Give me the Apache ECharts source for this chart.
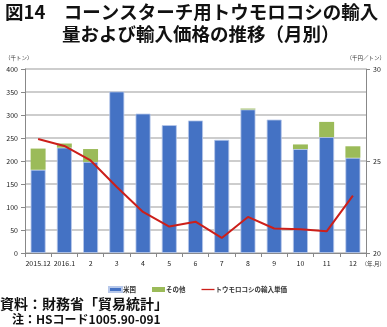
<!DOCTYPE html>
<html>
<head>
<meta charset="utf-8">
<script src="https://cdn.jsdelivr.net/npm/echarts@6/dist/echarts.min.js"></script>
<style>
  html, body { margin: 0; padding: 0; background: #fff; }
  #chart { width: 387px; height: 327px; }
</style>
</head>
<body>
<div id="chart"></div>
<script>
// Monthly imports of corn for cornstarch (thousand tonnes) and unit price (thousand yen / tonne)
var months = ['2015.12', '2016.1', '2', '3', '4', '5', '6', '7', '8', '9', '10', '11', '12'];
var usVolume = [181, 229, 198, 351, 303, 278, 288, 246, 312, 290, 226, 252, 207];
var otherVolume = [46, 9, 28, 0, 0, 0, 0, 0, 2, 0, 10, 33, 25];
var unitPrice = [26.2, 25.82, 25.03, 23.59, 22.23, 21.44, 21.7, 20.82, 21.96, 21.33, 21.29, 21.18, 23.12];
var volumeTicks = [0, 50, 100, 150, 200, 250, 300, 350, 400];
var priceTicks = [20, 25, 30];

var FONT = '"Noto Sans CJK JP", "Noto Sans", sans-serif';
var chart = echarts.init(document.getElementById('chart'));

chart.setOption({
  animation: false,
  backgroundColor: '#fff',
  grid: { left: 25, right: 21, top: 69, bottom: 74, containLabel: false },
  legend: {
    top: 281,
    left: 103,
    itemWidth: 13,
    itemHeight: 5,
    itemGap: 16,
    textStyle: { fontSize: 6.5, fontFamily: FONT, fontWeight: 'bold', color: '#333', padding: [0, 0, 0, -4] },
    data: [
      { name: '米国', icon: 'rect' },
      { name: 'その他', icon: 'rect' },
      { name: 'トウモロコシの輸入単価', icon: 'path://M0,4L20,4L20,6L0,6Z' }
    ]
  },
  xAxis: {
    type: 'category',
    data: months,
    boundaryGap: true,
    axisLine: { lineStyle: { color: '#888', width: 1 } },
    axisTick: { show: true, length: 4, lineStyle: { color: '#888' } },
    axisLabel: { fontSize: 7, fontFamily: FONT, color: '#222', margin: 7, interval: 0 }
  },
  yAxis: [
    {
      type: 'value',
      min: volumeTicks[0],
      max: volumeTicks[volumeTicks.length - 1],
      interval: 50,
      axisLine: { show: true, lineStyle: { color: '#888' } },
      axisTick: { show: true, length: 4, lineStyle: { color: '#888' } },
      axisLabel: { fontSize: 7, fontFamily: FONT, color: '#222', margin: 7 },
      splitLine: { show: true, lineStyle: { color: '#bdbdbd', width: 1.5 } }
    },
    {
      type: 'value',
      min: priceTicks[0],
      max: priceTicks[priceTicks.length - 1],
      interval: 5,
      position: 'right',
      axisLine: { show: true, lineStyle: { color: '#888' } },
      axisTick: { show: true, length: 4, lineStyle: { color: '#888' } },
      axisLabel: { fontSize: 7, fontFamily: FONT, color: '#222', margin: 7 },
      splitLine: { show: false }
    }
  ],
  series: [
    {
      name: '米国',
      type: 'bar',
      stack: 'vol',
      data: usVolume,
      barWidth: '57%',
      itemStyle: { color: '#4472c4', borderColor: '#b7c8ea', borderWidth: 0.8 }
    },
    {
      name: 'その他',
      type: 'bar',
      stack: 'vol',
      data: otherVolume,
      barWidth: '57%',
      itemStyle: { color: '#9bbb59', borderWidth: 0 }
    },
    {
      name: 'トウモロコシの輸入単価',
      type: 'line',
      yAxisIndex: 1,
      data: unitPrice,
      symbol: 'none',
      itemStyle: { color: '#cc1f1a' },
      lineStyle: { color: '#cc1f1a', width: 2 },
      z: 5
    }
  ],
  graphic: [
    { type: 'text', left: 5, top: 3, style: { text: '図14　コーンスターチ用トウモロコシの輸入', font: 'bold 18.5px ' + FONT, fill: '#111' } },
    { type: 'text', left: 62, top: 25, style: { text: '量および輸入価格の推移（月別）', font: 'bold 18.5px ' + FONT, fill: '#111' } },
    { type: 'text', left: 5, top: 55, style: { text: '（千トン）', font: '5.5px ' + FONT, fill: '#333' } },
    { type: 'text', right: 2, top: 55, style: { text: '（千円／トン）', font: '5.5px ' + FONT, fill: '#333' } },
    { type: 'text', right: 2, top: 261, style: { text: '（年.月）', font: '5.5px ' + FONT, fill: '#333' } },
    { type: 'text', left: 0, top: 297, style: { text: '資料：財務省「貿易統計」', font: 'bold 14px ' + FONT, fill: '#111' } },
    { type: 'text', left: 12, top: 313, style: { text: '注：HSコード1005.90-091', font: 'bold 12px ' + FONT, fill: '#111' } }
  ]
});
</script>
</body>
</html>
